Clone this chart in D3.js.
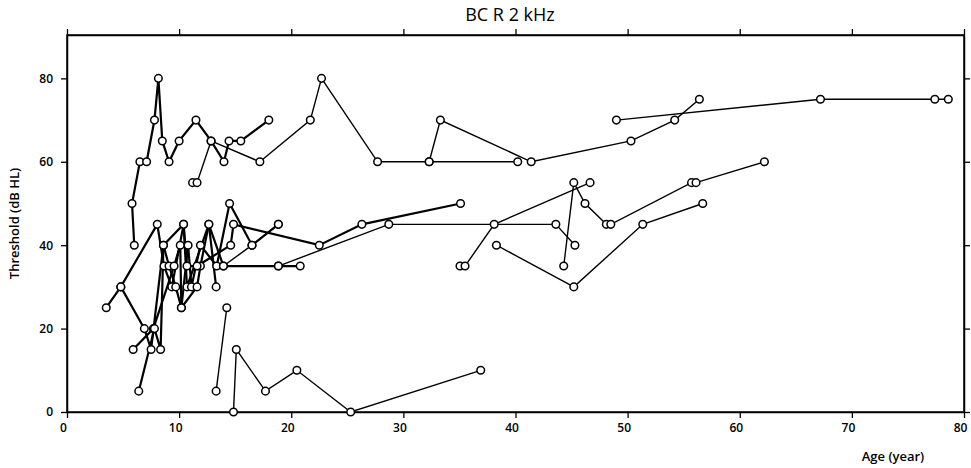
<!DOCTYPE html>
<html>
<head>
<meta charset="utf-8">
<script src="https://cdn.jsdelivr.net/npm/d3@7"></script>
<style>
  body { margin: 0; background: #fff; }
  svg text { font-family: "Open Sans", "DejaVu Sans", sans-serif; fill: #000; }
</style>
</head>
<body>
<div id="chart"></div>
<script>
// each subject: list of [age (year), threshold (dB HL)]
const subjectA = [[6.0, 40], [5.8, 50], [6.5, 60], [7.1, 60], [7.8, 70], [8.15, 80], [8.5, 65], [9.1, 60], [10.0, 65], [11.5, 70], [12.85, 65], [14.0, 60], [14.45, 65], [15.5, 65], [18.0, 70]];
const subjectB = [[11.2, 55], [11.6, 55], [12.85, 65], [17.2, 60], [21.7, 70], [22.7, 80], [27.7, 60], [32.3, 60], [40.2, 60]];
const subjectC = [[32.3, 60], [33.3, 70], [41.4, 60], [50.3, 65], [54.2, 70], [56.4, 75]];
const subjectD = [[49.0, 70], [67.2, 75], [77.4, 75], [78.6, 75]];
const subjectE = [[3.5, 25], [4.8, 30], [8.05, 45], [8.65, 35], [9.35, 30], [10.4, 45], [10.7, 30], [12.65, 45], [13.3, 30]];
const subjectF = [[4.8, 30], [6.9, 20], [7.5, 15], [8.6, 40], [9.1, 35], [9.7, 30], [10.2, 25], [10.8, 40], [11.1, 30], [11.9, 40], [13.35, 35], [14.5, 50], [16.5, 40], [18.85, 45]];
const subjectG = [[5.9, 15], [7.7, 20], [9.55, 35], [10.1, 40], [10.2, 25], [11.6, 30], [11.9, 35], [12.65, 45], [13.95, 35], [18.85, 35], [20.8, 35]];
const subjectH = [[6.4, 5], [7.8, 20], [8.35, 15], [8.6, 40], [10.4, 45], [10.7, 35], [11.6, 35], [14.6, 40], [14.85, 45], [22.5, 40], [26.3, 45], [35.1, 50]];
const subjectI = [[13.3, 5], [14.25, 25]];
const subjectJ = [[14.85, 0], [15.1, 15], [17.7, 5], [20.5, 10], [25.3, 0], [36.9, 10]];
const subjectK = [[13.95, 35], [16.5, 40], [18.85, 45]];
const subjectL = [[18.85, 35], [28.7, 45], [43.6, 45], [45.3, 40]];
const subjectM = [[35.05, 35], [35.5, 35], [38.1, 45], [46.65, 55]];
const subjectN = [[44.3, 35], [45.2, 55], [46.2, 50], [48.1, 45], [48.5, 45], [55.7, 55], [56.1, 55], [62.2, 60]];
const subjectO = [[38.3, 40], [45.2, 30], [51.35, 45], [56.7, 50]];

const subjects = [subjectA, subjectB, subjectC, subjectD, subjectE, subjectF, subjectG, subjectH,
                  subjectI, subjectJ, subjectK, subjectL, subjectM, subjectN, subjectO];
const heavySubjects = [0, 4, 5, 6, 7]; // drawn with a thicker stroke

const xTicks = [0, 10, 20, 30, 40, 50, 60, 70, 80];
const yTicks = [0, 20, 40, 60, 80];
const title = "BC R 2 kHz";
const xTitle = "Age (year)";
const yTitle = "Threshold (dB HL)";

const width = 971, height = 468;
const plot = { left: 67, right: 964, top: 35, bottom: 412 };

const svg = d3.select("#chart").append("svg")
    .attr("width", width)
    .attr("height", height);

const x = d3.scaleLinear().domain([0, 80]).range([plot.left, plot.right]);
const y = d3.scaleLinear().domain([0, 90.4]).range([plot.bottom, plot.top]);

// frame
svg.append("rect")
    .attr("x", plot.left).attr("y", plot.top)
    .attr("width", plot.right - plot.left).attr("height", plot.bottom - plot.top)
    .attr("fill", "none").attr("stroke", "#000").attr("stroke-width", 1.5);

const xAxis = svg.append("g")
    .attr("transform", `translate(0,${plot.bottom})`)
    .call(d3.axisBottom(x).tickValues(xTicks).tickSize(6).tickPadding(5).tickSizeOuter(0));
xAxis.selectAll("text").attr("dx", -4).style("font-size", "12px").style("font-weight", "600");

svg.append("g")
    .attr("transform", `translate(0,${plot.top})`)
    .call(d3.axisTop(x).tickValues(xTicks).tickSize(6).tickSizeOuter(0).tickFormat(""));

const yAxis = svg.append("g")
    .attr("transform", `translate(${plot.left},0)`)
    .call(d3.axisLeft(y).tickValues(yTicks).tickSize(6).tickPadding(8).tickSizeOuter(0));
yAxis.selectAll("text").style("font-size", "12px").style("font-weight", "600");

svg.append("g")
    .attr("transform", `translate(${plot.right},0)`)
    .call(d3.axisRight(y).tickValues(yTicks).tickSize(6).tickSizeOuter(0).tickFormat(""));

svg.selectAll(".domain").attr("stroke-width", 1.5);
svg.selectAll(".tick line").attr("stroke-width", 1.3);

// subject lines
const line = d3.line().x(d => x(d[0])).y(d => y(d[1]));

svg.append("g").selectAll("path")
    .data(subjects)
    .enter()
    .append("path")
    .attr("d", line)
    .attr("fill", "none")
    .attr("stroke", "#000")
    .attr("stroke-width", (d, i) => heavySubjects.includes(i) ? 2.2 : 1.4);

svg.append("g").selectAll("circle")
    .data(subjects.flat())
    .enter()
    .append("circle")
    .attr("cx", d => x(d[0]))
    .attr("cy", d => y(d[1]))
    .attr("r", 3.8)
    .attr("fill", "#fff")
    .attr("stroke", "#000")
    .attr("stroke-width", 1.5);

// titles
svg.append("text")
    .attr("x", 510).attr("y", 21)
    .attr("text-anchor", "middle")
    .style("font-size", "18px")
    .style("font-weight", "normal")
    .text(title);

svg.append("text")
    .attr("x", 893).attr("y", 461)
    .attr("text-anchor", "middle")
    .style("font-size", "13px")
    .style("font-weight", "600")
    .text(xTitle);

svg.append("text")
    .attr("transform", `translate(19,${(plot.top + plot.bottom) / 2}) rotate(-90)`)
    .attr("text-anchor", "middle")
    .style("font-size", "13px")
    .style("font-weight", "600")
    .text(yTitle);
</script>
</body>
</html>
